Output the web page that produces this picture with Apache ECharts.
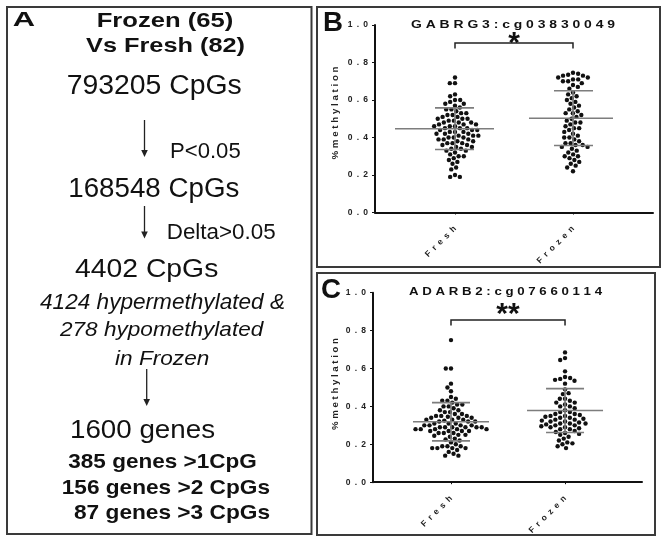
<!DOCTYPE html>
<html>
<head>
<meta charset="utf-8">
<script src="https://cdn.jsdelivr.net/npm/echarts@6/dist/echarts.min.js"></script>
<style>
html,body{margin:0;padding:0;background:#fff;}
#chart{width:667px;height:541px;}
</style>
</head>
<body>
<div id="chart"></div>
<script>
// ---------------- DATA ----------------
const categories = ['Fresh', 'Frozen'];
const yTickValues = [0, 0.2, 0.4, 0.6, 0.8, 1.0];
const panelLetters = ['A', 'B', 'C'];
const flowText = [
  'Frozen (65)', 'Vs Fresh (82)', '793205 CpGs', 'P<0.05', '168548 CpGs',
  'Delta>0.05', '4402 CpGs', '4124 hypermethylated &', '278 hypomethylated',
  'in Frozen', '1600 genes', '385 genes >1CpG', '156 genes >2 CpGs', '87 genes >3 CpGs'
];
const titleB = 'GABRG3: cg03830049';
const titleC = 'ADARB2: cg07660114';
const yAxisName = '% methylation';

const freshB = [
  0.72, 0.69, 0.69, 0.63, 0.62, 0.60, 0.60, 0.59, 0.58, 0.58,
  0.57, 0.56, 0.55, 0.55, 0.54, 0.53, 0.53, 0.52, 0.52, 0.51,
  0.51, 0.50, 0.50, 0.50, 0.49, 0.49, 0.48, 0.48, 0.48, 0.47,
  0.47, 0.47, 0.46, 0.46, 0.46, 0.45, 0.45, 0.45, 0.44, 0.44,
  0.44, 0.43, 0.43, 0.43, 0.42, 0.42, 0.42, 0.41, 0.41, 0.41,
  0.40, 0.40, 0.40, 0.39, 0.39, 0.39, 0.38, 0.38, 0.37, 0.37,
  0.37, 0.36, 0.36, 0.35, 0.35, 0.34, 0.34, 0.33, 0.33, 0.32,
  0.31, 0.30, 0.30, 0.29, 0.28, 0.27, 0.26, 0.24, 0.23, 0.20,
  0.19, 0.19
];
const frozenB = [
  0.745, 0.74, 0.735, 0.73, 0.73, 0.72, 0.72, 0.71, 0.71, 0.70,
  0.70, 0.69, 0.68, 0.67, 0.66, 0.64, 0.63, 0.62, 0.61, 0.60,
  0.59, 0.58, 0.57, 0.56, 0.55, 0.54, 0.53, 0.53, 0.52, 0.51,
  0.50, 0.49, 0.48, 0.48, 0.47, 0.46, 0.45, 0.45, 0.44, 0.43,
  0.42, 0.41, 0.40, 0.40, 0.39, 0.38, 0.37, 0.37, 0.36, 0.36,
  0.35, 0.35, 0.34, 0.33, 0.32, 0.31, 0.30, 0.30, 0.29, 0.28,
  0.27, 0.26, 0.25, 0.24, 0.22
];
const freshC = [
  0.75, 0.60, 0.60, 0.52, 0.50, 0.48, 0.45, 0.44, 0.43, 0.43,
  0.42, 0.41, 0.41, 0.40, 0.40, 0.39, 0.38, 0.38, 0.37, 0.37,
  0.36, 0.36, 0.35, 0.35, 0.35, 0.34, 0.34, 0.34, 0.33, 0.33,
  0.33, 0.32, 0.32, 0.32, 0.31, 0.31, 0.31, 0.30, 0.30, 0.30,
  0.30, 0.29, 0.29, 0.29, 0.29, 0.29, 0.29, 0.28, 0.28, 0.28,
  0.28, 0.28, 0.27, 0.27, 0.27, 0.27, 0.26, 0.26, 0.26, 0.25,
  0.25, 0.24, 0.23, 0.22, 0.21, 0.20, 0.19, 0.19, 0.19, 0.18,
  0.18, 0.18, 0.18, 0.17, 0.16, 0.15, 0.14, 0.14, 0.345, 0.325,
  0.245, 0.225
];
const frozenC = [
  0.685, 0.655, 0.645, 0.585, 0.555, 0.55, 0.545, 0.54, 0.535, 0.52,
  0.49, 0.47, 0.465, 0.44, 0.44, 0.43, 0.42, 0.42, 0.41, 0.40,
  0.40, 0.39, 0.38, 0.37, 0.37, 0.36, 0.36, 0.355, 0.35, 0.35,
  0.345, 0.34, 0.34, 0.335, 0.33, 0.33, 0.325, 0.32, 0.32, 0.315,
  0.31, 0.31, 0.31, 0.305, 0.30, 0.30, 0.295, 0.29, 0.29, 0.285,
  0.28, 0.28, 0.27, 0.265, 0.26, 0.255, 0.25, 0.24, 0.23, 0.22,
  0.21, 0.205, 0.20, 0.19, 0.18
];
const meanB = [0.447, 0.503];
const sdB = [0.111, 0.146];
const meanC = [0.319, 0.378];
const sdC = [0.101, 0.116];
const sigB = '*';
const sigC = '**';

// ---------------- LAYOUT / STYLE ----------------
const FF = '"Liberation Sans", Arial, sans-serif';
const INK = '#111';
const measureCtx = document.createElement('canvas').getContext('2d');
function fit(text, font, width) {
  measureCtx.font = font;
  return width / measureCtx.measureText(text).width;
}
function spaced(s, sep) { return s.replace(/ /g, '').split('').join(sep || ' '); }
function txt(text, fontSpec, left, right, cy) {
  const font = fontSpec + ' ' + FF;
  return {
    type: 'text', x: left, y: cy, scaleX: fit(text, font, right - left), silent: true,
    style: { text: text, font: font, fill: INK, textAlign: 'left', textVerticalAlign: 'middle' }
  };
}

// panel A text layout: [font, left, right, capCenterY], one per flowText entry
const flowLayout = [
  ['bold 21px', 96.7, 233.3, 21.5],
  ['bold 21px', 86, 245, 46.5],
  ['27px', 66.7, 241.7, 87],
  ['22px', 170, 240.7, 152],
  ['27px', 68.3, 239.3, 189.7],
  ['22px', 166.7, 275.7, 232.8],
  ['25px', 75, 218.3, 270],
  ['italic 22px', 40, 285, 302.7],
  ['italic 21px', 60, 263.3, 330.5],
  ['italic 21px', 115, 209.3, 359],
  ['26px', 70, 215, 430.8],
  ['bold 21px', 68.3, 256.7, 462],
  ['bold 21px', 61.7, 270, 488],
  ['bold 21px', 74, 270, 513.7]
];
const arrows = [[144.5, 120, 157], [144.5, 206, 238.5], [146.7, 369, 406]];

const panels = [
  {
    grid: { left: 375, top: 25, width: 278, height: 187.5 },
    xMin: -0.678, xMax: 1.678,
    groups: [freshB, frozenB], mean: meanB, sd: sdB, sig: sigB,
    bracketY: 0.904, starDy: 0.5,
    meanHalf: [[60, 39], [44, 40]], sdHalf: [[20, 19], [19, 20]],
    title: titleB, titleBox: [411, 615, 25],
    letterBox: [323, 343, 23], nameBox: [336, 113, 93]
  },
  {
    grid: { left: 373, top: 292.7, width: 269, height: 189.5 },
    xMin: -0.684, xMax: 1.675,
    groups: [freshC, frozenC], mean: meanC, sd: sdC, sig: sigC,
    bracketY: 0.856, starDy: -5.5,
    meanHalf: [[38, 38], [38, 38]], sdHalf: [[19, 19], [19, 19]],
    title: titleC, titleBox: [409, 602, 292.5],
    letterBox: [321, 341, 290.5], nameBox: [336, 384, 92]
  }
];

function swarm(values, cat, pxX, pxY, d) {
  const order = values.map((v, i) => i).sort((a, b) => values[b] - values[a]);
  const placed = [];
  const pts = [];
  let flip = 1;
  order.forEach(idx => {
    const y = values[idx] * pxY;
    const cands = [0];
    placed.forEach(p => {
      const dy = Math.abs(p.y - y);
      if (dy < d) {
        const dx = Math.sqrt(d * d - dy * dy);
        cands.push(p.x + dx, p.x - dx);
      }
    });
    cands.sort((a, b) => (Math.abs(a) - Math.abs(b)) || (a - b) * flip);
    let best = 0;
    for (const c of cands) {
      if (placed.every(p => (p.x - c) * (p.x - c) + (p.y - y) * (p.y - y) >= d * d - 1e-6)) { best = c; break; }
    }
    flip = -flip;
    placed.push({ x: best, y: y });
    pts.push([cat + best / pxX, values[idx]]);
  });
  return pts;
}

const grids = [], xAxes = [], yAxes = [], series = [];
const graphics = [];

// frames
graphics.push({ type: 'rect', shape: { x: 7, y: 7, width: 304.5, height: 527 }, style: { fill: 'none', stroke: '#3a3a3a', lineWidth: 2 }, silent: true });
graphics.push({ type: 'rect', shape: { x: 317, y: 7, width: 343, height: 260 }, style: { fill: 'none', stroke: '#3a3a3a', lineWidth: 2 }, silent: true });
graphics.push({ type: 'rect', shape: { x: 317, y: 273, width: 338, height: 262 }, style: { fill: 'none', stroke: '#3a3a3a', lineWidth: 2 }, silent: true });

// panel A
graphics.push(txt(panelLetters[0], 'bold 21px', 12.7, 35, 20));
flowText.forEach((t, i) => {
  const L = flowLayout[i];
  graphics.push(txt(t, L[0], L[1], L[2], L[3]));
});
arrows.forEach(a => {
  graphics.push({ type: 'line', shape: { x1: a[0], y1: a[1], x2: a[0], y2: a[2] - 5 }, style: { stroke: '#222', lineWidth: 1.3 }, silent: true });
  graphics.push({ type: 'polygon', shape: { points: [[a[0] - 3.3, a[2] - 7], [a[0] + 3.3, a[2] - 7], [a[0], a[2]]] }, style: { fill: '#222' }, silent: true });
});

panels.forEach((P, k) => {
  const g = P.grid;
  grids.push({ left: g.left, top: g.top, width: g.width, height: g.height, containLabel: false });
  xAxes.push({
    gridIndex: k, type: 'value', min: P.xMin, max: P.xMax,
    axisLine: { show: true, onZero: false, lineStyle: { color: INK, width: 2 } },
    splitLine: { show: false },
    axisTick: { show: true, customValues: [0, 1], length: 2, lineStyle: { color: INK, width: 1 } },
    axisLabel: {
      show: true, customValues: [0, 1], rotate: 45, margin: 15,
      formatter: v => spaced(categories[Math.round(v)], '\u2002'),
      fontSize: 8.5, fontWeight: 'bold', color: '#222', fontFamily: FF
    }
  });
  yAxes.push({
    gridIndex: k, type: 'value', min: yTickValues[0], max: yTickValues[yTickValues.length - 1], interval: 0.2,
    axisLine: { show: true, onZero: false, lineStyle: { color: INK, width: 2 } },
    axisTick: { show: true, length: 3, lineStyle: { color: INK, width: 1 } },
    splitLine: { show: false },
    axisLabel: {
      show: true, margin: 7, formatter: v => spaced(v.toFixed(1), '\u2002'),
      fontSize: 8.5, fontWeight: 'bold', color: '#222', fontFamily: FF
    }
  });
  const pxX = g.width / (P.xMax - P.xMin);
  const pxY = g.height / (yTickValues[yTickValues.length - 1] - yTickValues[0]);
  let pts = [];
  P.groups.forEach((vals, ci) => { pts = pts.concat(swarm(vals, ci, pxX, pxY, 5.2)); });
  series.push({
    type: 'scatter', xAxisIndex: k, yAxisIndex: k, data: pts, symbol: 'circle', symbolSize: 4.4,
    itemStyle: { color: INK, opacity: 1 }, silent: true, z: 2
  });
  series.push({
    type: 'custom', xAxisIndex: k, yAxisIndex: k, silent: true, z: 3,
    data: categories.map((c, i) => [i, P.mean[i], P.sd[i]]),
    renderItem: (params, api) => {
      const i = api.value(0), m = api.value(1), s = api.value(2);
      const c = api.coord([i, m]), t = api.coord([i, m + s]), b = api.coord([i, m - s]);
      const mh = P.meanHalf[i], sh = P.sdHalf[i];
      const st = { stroke: '#7d7d7d', lineWidth: 1.6 };
      return {
        type: 'group', children: [
          { type: 'line', shape: { x1: c[0] - mh[0], y1: c[1], x2: c[0] + mh[1], y2: c[1] }, style: st },
          { type: 'line', shape: { x1: t[0] - sh[0], y1: t[1], x2: t[0] + sh[1], y2: t[1] }, style: st },
          { type: 'line', shape: { x1: b[0] - sh[0], y1: b[1], x2: b[0] + sh[1], y2: b[1] }, style: st },
          { type: 'line', shape: { x1: c[0], y1: t[1], x2: c[0], y2: b[1] }, style: st }
        ]
      };
    }
  });
  series.push({
    type: 'custom', xAxisIndex: k, yAxisIndex: k, silent: true, z: 3,
    data: [[0, 1, P.bracketY]],
    renderItem: (params, api) => {
      const a = api.coord([api.value(0), api.value(2)]);
      const b = api.coord([api.value(1), api.value(2)]);
      return {
        type: 'group', children: [
          { type: 'polyline', shape: { points: [[a[0], a[1] + 5.5], [a[0], a[1]], [b[0], b[1]], [b[0], b[1] + 5.5]] }, style: { stroke: '#222', lineWidth: 1.5, fill: 'none' } },
          { type: 'text', x: (a[0] + b[0]) / 2, y: a[1] + P.starDy, style: { text: P.sig, font: 'bold 30px ' + FF, fill: INK, textAlign: 'center', textVerticalAlign: 'middle' } }
        ]
      };
    }
  });
  // panel letter, title and y-axis name
  const lb = P.letterBox;
  graphics.push(txt(panelLetters[k + 1], 'bold 28px', lb[0], lb[1], lb[2]));
  const tb = P.titleBox;
  graphics.push(txt(spaced(P.title), 'bold 10px', tb[0], tb[1], tb[2]));
  const nb = P.nameBox;
  const nameText = spaced(yAxisName);
  const nameFont = 'bold 8.5px ' + FF;
  graphics.push({
    type: 'text', x: nb[0], y: nb[1], rotation: Math.PI / 2, scaleX: fit(nameText, nameFont, nb[2]), silent: true,
    style: { text: nameText, font: nameFont, fill: '#222', textAlign: 'center', textVerticalAlign: 'middle' }
  });
});

const chart = echarts.init(document.getElementById('chart'), null, { renderer: 'canvas' });
chart.setOption({
  animation: false,
  backgroundColor: '#fff',
  grid: grids,
  xAxis: xAxes,
  yAxis: yAxes,
  series: series,
  graphic: { elements: graphics }
});
</script>
</body>
</html>
